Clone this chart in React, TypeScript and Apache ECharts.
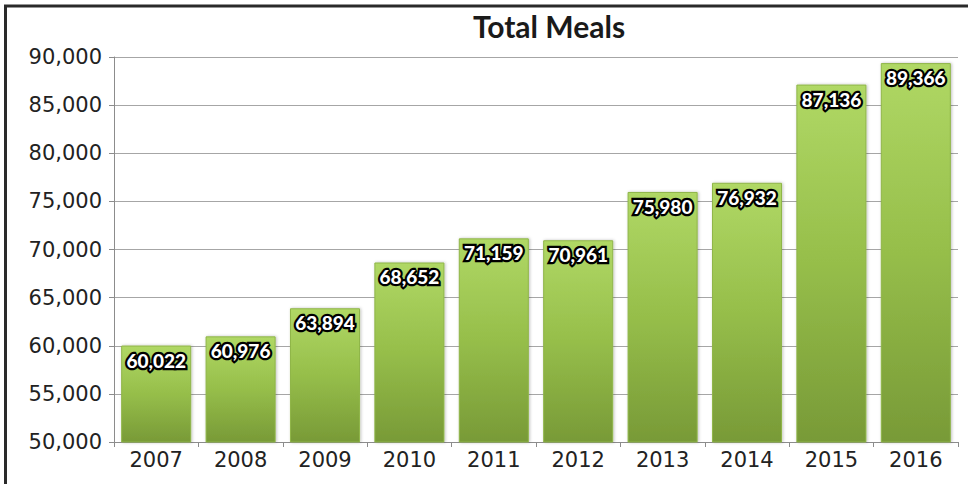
import React, { useEffect, useRef } from "react";
import * as echarts from "echarts";

const categories = ["2007", "2008", "2009", "2010", "2011", "2012", "2013", "2014", "2015", "2016"];
const meals = [60022, 60976, 63894, 68652, 71159, 70961, 75980, 76932, 87136, 89366];
const yMin = 50000;
const yMax = 90000;
const yStep = 5000;
const titleText = "Total Meals";

const fmt = (v: number) => v.toLocaleString("en-US");

export default function App() {
  const ref = useRef<HTMLDivElement>(null);
  useEffect(() => {
    if (!ref.current) return;
    const chart = echarts.init(ref.current, null, { renderer: "svg" });
    chart.setOption({
      animation: false,
      backgroundColor: "#ffffff",
      title: {
        text: titleText,
        left: 544,
        textAlign: "center",
        top: 6,
        textStyle: { fontFamily: "Lato", fontWeight: "bold", fontSize: 30, color: "#1a1a1a" },
      },
      graphic: [
        {
          type: "polyline",
          shape: { points: [[5.5, 490], [5.5, 6], [975, 6]] },
          style: { stroke: "#2a2a2a", lineWidth: 3, fill: "none" },
          silent: true,
        },
      ],
      grid: { left: 114, right: 10, top: 57, bottom: 42, containLabel: false },
      xAxis: {
        type: "category",
        data: categories,
        axisLine: { show: true, lineStyle: { color: "#8c8c8c", width: 1 } },
        axisTick: { show: true, alignWithLabel: false, length: 5, inside: false, lineStyle: { color: "#8c8c8c" } },
        axisLabel: { fontFamily: "DejaVu Sans", fontSize: 21, color: "#222", margin: 7 },
      },
      yAxis: {
        type: "value",
        min: yMin,
        max: yMax,
        interval: yStep,
        axisLine: { show: true, lineStyle: { color: "#8c8c8c", width: 1 } },
        axisTick: { show: true, length: 5, lineStyle: { color: "#8c8c8c" } },
        splitLine: { show: true, lineStyle: { color: "#a6a6a6", width: 1 } },
        axisLabel: {
          fontFamily: "DejaVu Sans",
          fontSize: 21,
          color: "#222",
          margin: 12,
          formatter: (v: number) => fmt(v),
        },
      },
      series: [
        {
          type: "bar",
          data: meals,
          barCategoryGap: "17%",
          itemStyle: {
            color: new echarts.graphic.LinearGradient(0, 0, 0, 1, [
              { offset: 0, color: "#b0d865" },
              { offset: 0.5, color: "#96be4a" },
              { offset: 1, color: "#789a37" },
            ]),
            borderColor: "#8fb548",
            borderWidth: 1,
            shadowColor: "rgba(0,0,0,0.25)",
            shadowBlur: 3,
            shadowOffsetX: 1,
            shadowOffsetY: 0,
          },
          label: {
            show: true,
            position: "insideTop",
            distance: 5,
            formatter: (p: any) => fmt(p.value),
            fontFamily: "Lato",
            fontWeight: 900,
            fontSize: 19,
            color: "#ffffff",
            textBorderColor: "#000000",
            textBorderWidth: 4.5,
          },
        },
      ],
    });
    return () => chart.dispose();
  }, []);
  return (
    <div
      ref={ref}
      style={{ position: "fixed", left: 0, top: 0, width: 968, height: 484 }}
    />
  );
}
